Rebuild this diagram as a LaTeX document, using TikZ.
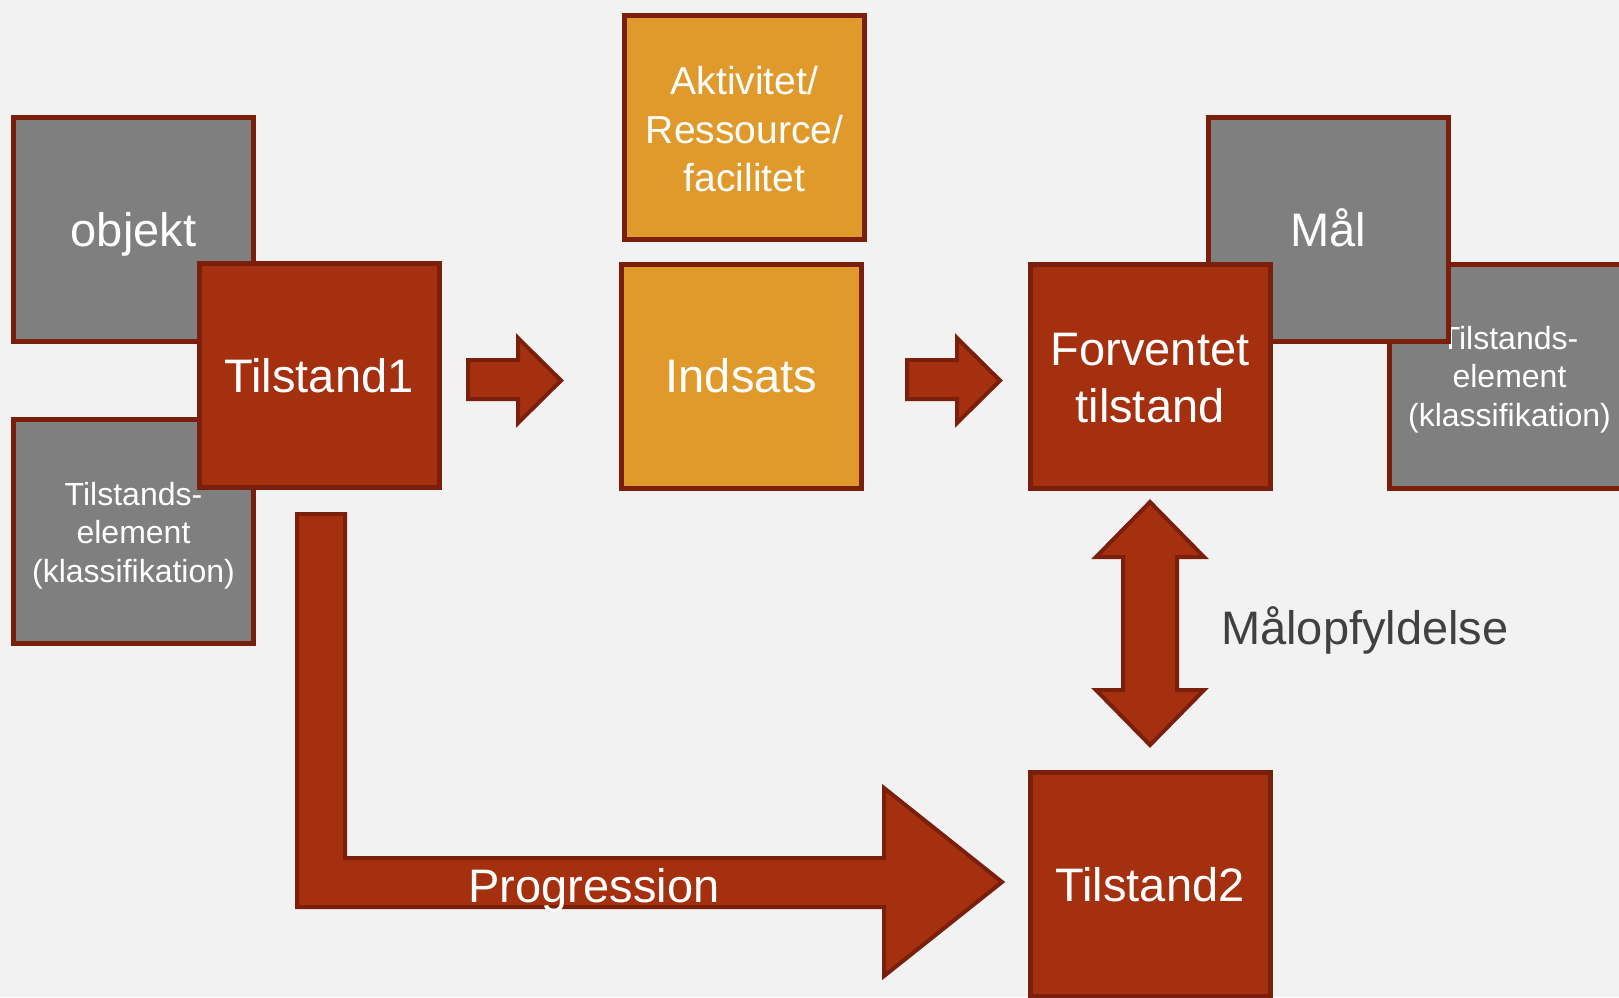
\documentclass[tikz,border=0pt]{standalone}
\usepackage{fontspec}
\setmainfont{Liberation Sans}
\definecolor{tred}{HTML}{A5300F}
\definecolor{bord}{HTML}{7A1F0C}
\definecolor{tgrey}{HTML}{7F7F7F}
\definecolor{torange}{HTML}{E09A2B}
\definecolor{bg}{HTML}{F2F2F2}
\definecolor{textgrey}{HTML}{404040}
\begin{document}
\begin{tikzpicture}[x=1pt,y=-1pt,
  box/.style={draw=bord, line width=5pt, minimum width=240pt, minimum height=224pt, inner sep=0pt, text=white, align=center},
  bigtext/.style={font=\fontsize{47}{57}\selectfont, text height=33.6pt, text depth=0pt},
  redbox/.style={box, fill=tred, bigtext},
  greybig/.style={box, fill=tgrey, bigtext},
  greysmall/.style={box, fill=tgrey, font=\fontsize{32}{38.7}\selectfont, text height=102pt, text depth=0pt},
  orbox/.style={box, fill=torange},
  blockarrow/.style={draw=bord, line width=4pt, fill=tred, line join=miter},
]
\fill[bg] (0,0) rectangle (1619,997);
\useasboundingbox (0,0) rectangle (1619,997);
\begin{scope}
\clip (0,0) rectangle (1619,997);
% left group
\node[greybig] (objekt) at (133.5,229.5) {objekt};
\node[greysmall] (telL) at (133.5,531.5) {Tilstands-\\element\\(klassifikation)};
\node[redbox] (t1) at (319,375.5) {Tilstand1};
% middle
\node[orbox, font=\fontsize{39}{48.5}\selectfont, text height=128pt, text depth=0pt] (akt) at (744.5,127.5) {Aktivitet/\\Ressource/\\facilitet};
\node[orbox, bigtext] (inds) at (741.5,376) {Indsats};
% right group
\node[greysmall, text height=101pt] (telR) at (1509.5,376) {Tilstands-\\element\\(klassifikation)};
\node[greybig] (maal) at (1328.5,229.5) {Mål};
\node[redbox, text height=93pt] (forv) at (1150,376) {Forventet\\tilstand};
\node[redbox] (t2) at (1150,884.5) {Tilstand2};
% block arrows
\draw[blockarrow] (468,360) -- (518,360) -- (518,338) -- (561,380.5) -- (518,423) -- (518,399) -- (468,399) -- cycle;
\draw[blockarrow] (907,360) -- (957,360) -- (957,338) -- (1000,380.5) -- (957,423) -- (957,399) -- (907,399) -- cycle;
% double arrow
\draw[blockarrow] (1150,502) -- (1204,557) -- (1177,557) -- (1177,690) -- (1204,690) -- (1150,745) -- (1096,690) -- (1123,690) -- (1123,557) -- (1096,557) -- cycle;
% progression arrow
\draw[blockarrow] (297,514) -- (345,514) -- (345,858) -- (884,858) -- (884,788) -- (1002,882) -- (884,976) -- (884,907) -- (297,907) -- cycle;
\node[text=white, bigtext, inner sep=0pt] (prog) at (594,886) {Progression};
\node[text=textgrey, bigtext, anchor=west, inner sep=0pt] (maalopf) at (1221,628) {Målopfyldelse};
\end{scope}
\end{tikzpicture}
\end{document}
